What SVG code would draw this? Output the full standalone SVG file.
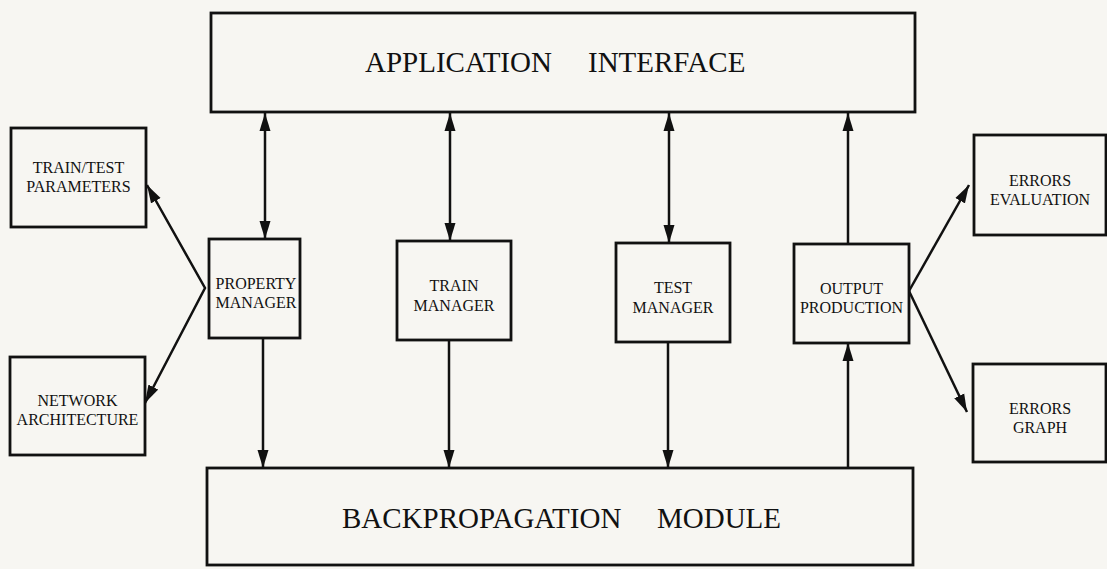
<svg xmlns="http://www.w3.org/2000/svg" width="1107" height="569" viewBox="0 0 1107 569">
<style>
.box{fill:none;stroke:#111;stroke-width:2.8}
.ln{fill:none;stroke:#111;stroke-width:2.5}
.t{font-family:"Liberation Serif","Times New Roman",serif;fill:#111;text-anchor:middle;font-size:16px}
.big{font-family:"Liberation Serif","Times New Roman",serif;fill:#111;font-size:29px}
</style>
<defs>
<marker id="ah" markerUnits="userSpaceOnUse" markerWidth="19" markerHeight="12" refX="18" refY="6" orient="auto-start-reverse">
<path d="M0,0.5 L18,6 L0,11.5 Z" fill="#111"/>
</marker>
</defs>
<rect width="1107" height="569" fill="#f7f6f2"/>
<g id="app"><rect class="box" x="211" y="13" width="704" height="99"/>
<text class="big" x="365" y="72">APPLICATION</text><text class="big" x="588" y="72">INTERFACE</text></g>
<g id="backprop"><rect class="box" x="207" y="468" width="706" height="97"/>
<text class="big" x="342" y="528">BACKPROPAGATION</text><text class="big" x="657" y="528">MODULE</text></g>
<g id="params"><rect class="box" x="11" y="128" width="135" height="99"/>
<text class="t" x="78.5" y="173">TRAIN/TEST</text><text class="t" x="78.5" y="192">PARAMETERS</text></g>
<g id="network"><rect class="box" x="10" y="357" width="135" height="98"/>
<text class="t" x="77.5" y="406">NETWORK</text><text class="t" x="77.5" y="425">ARCHITECTURE</text></g>
<g id="property"><rect class="box" x="209" y="239" width="91" height="99"/>
<text class="t" x="256" y="289" font-size="15">PROPERTY</text><text class="t" x="256" y="308" font-size="15">MANAGER</text></g>
<g id="train"><rect class="box" x="397" y="241" width="114" height="99"/>
<text class="t" x="454" y="291">TRAIN</text><text class="t" x="454" y="311">MANAGER</text></g>
<g id="test"><rect class="box" x="616" y="243" width="114" height="99"/>
<text class="t" x="673" y="293">TEST</text><text class="t" x="673" y="313">MANAGER</text></g>
<g id="output"><rect class="box" x="794" y="244" width="115" height="99"/>
<text class="t" x="851.5" y="294">OUTPUT</text><text class="t" x="851.5" y="313">PRODUCTION</text></g>
<g id="evaluation"><rect class="box" x="974" y="135" width="132" height="100"/>
<text class="t" x="1040" y="186">ERRORS</text><text class="t" x="1040" y="205">EVALUATION</text></g>
<g id="graph"><rect class="box" x="973" y="364" width="133" height="98"/>
<text class="t" x="1040" y="414">ERRORS</text><text class="t" x="1040" y="433">GRAPH</text></g>
<g id="connectors">
<line class="ln" x1="265" y1="113" x2="265" y2="239" marker-start="url(#ah)" marker-end="url(#ah)"/>
<line class="ln" x1="450" y1="113" x2="450" y2="241" marker-start="url(#ah)" marker-end="url(#ah)"/>
<line class="ln" x1="669" y1="113" x2="669" y2="243" marker-start="url(#ah)" marker-end="url(#ah)"/>
<line class="ln" x1="848" y1="244" x2="848" y2="113" marker-end="url(#ah)"/>
<line class="ln" x1="263" y1="338" x2="263" y2="468" marker-end="url(#ah)"/>
<line class="ln" x1="449" y1="340" x2="449" y2="468" marker-end="url(#ah)"/>
<line class="ln" x1="668" y1="342" x2="668" y2="468" marker-end="url(#ah)"/>
<line class="ln" x1="848" y1="468" x2="848" y2="343" marker-end="url(#ah)"/>
<path class="ln" d="M147,185 L205,288 L145,403" stroke-width="3" marker-start="url(#ah)" marker-end="url(#ah)"/>
<path class="ln" d="M909,291 L969,185" stroke-width="3" marker-end="url(#ah)"/>
<path class="ln" d="M909,291 L967,412" stroke-width="3" marker-end="url(#ah)"/>
</g>
</svg>
